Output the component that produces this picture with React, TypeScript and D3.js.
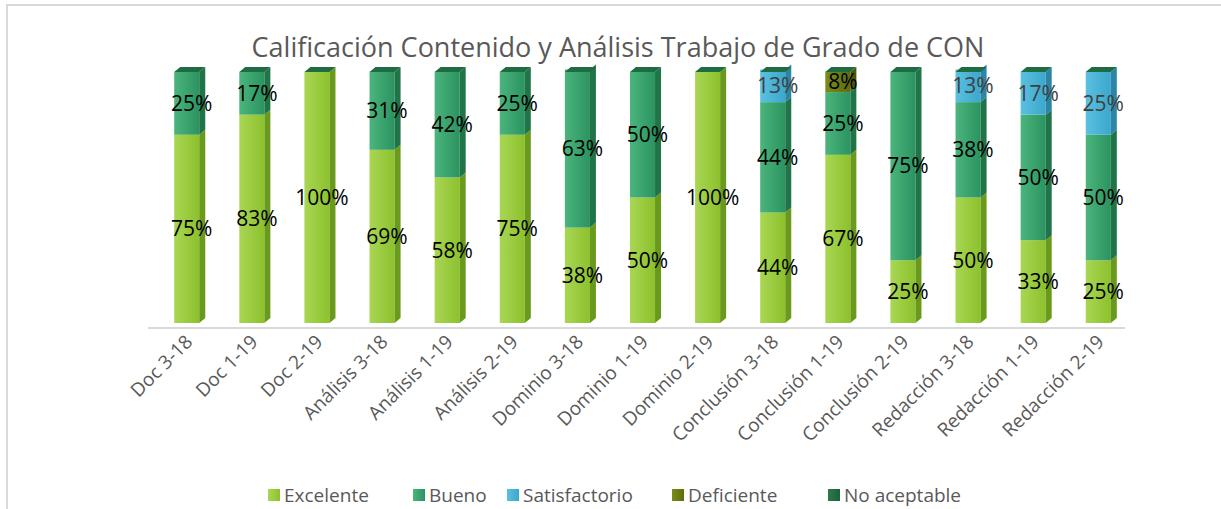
import React from "react";
import { scaleBand, scaleLinear, stack } from "d3";

const categories = [
  "Doc 3-18", "Doc 1-19", "Doc 2-19", "Análisis 3-18", "Análisis 1-19", "Análisis 2-19",
  "Dominio 3-18", "Dominio 1-19", "Dominio 2-19", "Conclusión 3-18", "Conclusión 1-19",
  "Conclusión 2-19", "Redacción 3-18", "Redacción 1-19", "Redacción 2-19",
];
const seriesNames = ["Excelente", "Bueno", "Satisfactorio", "Deficiente", "No aceptable"];
const excelente = [75, 83, 100, 69, 58, 75, 38, 50, 100, 44, 67, 25, 50, 33, 25];
const bueno = [25, 17, 0, 31, 42, 25, 63, 50, 0, 44, 25, 75, 38, 50, 50];
const satisfactorio = [0, 0, 0, 0, 0, 0, 0, 0, 0, 13, 0, 0, 13, 17, 25];
const deficiente = [0, 0, 0, 0, 0, 0, 0, 0, 0, 0, 8, 0, 0, 0, 0];
const noAceptable = [0, 0, 0, 0, 0, 0, 0, 0, 0, 0, 0, 0, 0, 0, 0];

// front light / front dark / side colour per series
const palette = [
  { a: "#a9d654", b: "#8cc12c", side: "#6a9a1c", label: "#000" },
  { a: "#4cb47c", b: "#2a9360", side: "#1f7448", label: "#000" },
  { a: "#5cc0e0", b: "#3aa7cc", side: "#2a85a6", label: "#404040" },
  { a: "#7a8c1a", b: "#5f6e0c", side: "#4a5708", label: "#000" },
  { a: "#2a7a4c", b: "#1d6139", side: "#134a2a", label: "#000" },
];

const rows = categories.map((c, i) => ({
  cat: c,
  "Excelente": excelente[i],
  "Bueno": bueno[i],
  "Satisfactorio": satisfactorio[i],
  "Deficiente": deficiente[i],
  "No aceptable": noAceptable[i],
}));

const font = "'Open Sans', sans-serif";

export default function App() {
  const width = 1221, height = 509;
  const dx = 6, dy = -5;
  const x = scaleBand<string>().domain(categories).range([154, 1131]).paddingInner(0.615).paddingOuter(0.31);
  const y = scaleLinear().domain([0, 100]).range([323, 72]);
  const layers = stack<any>().keys(seriesNames)(rows);
  const bw = x.bandwidth();

  return (
    <svg width={width} height={height} style={{ position: "absolute", left: 0, top: 0 }}>
      <defs>
        {palette.map((p, i) => (
          <linearGradient key={i} id={`g${i}`} x1="0" x2="1" y1="0" y2="0">
            <stop offset="0" stopColor={p.a} />
            <stop offset="1" stopColor={p.b} />
          </linearGradient>
        ))}
      </defs>
      <rect x={7} y={5} width={1230} height={520} fill="#fff" stroke="#d9d9d9" strokeWidth={2} />
      <text x={618} y={57} textAnchor="middle" fontFamily={font} fontSize={27} fill="#595959">
        Calificación Contenido y Análisis Trabajo de Grado de CON
      </text>
      <line x1={148} x2={1125} y1={328} y2={328} stroke="#d9d9d9" strokeWidth={2} />
      {layers.map((layer, si) =>
        layer.map((d, i) => {
          const v = d[1] - d[0];
          if (v <= 0) return null;
          const x0 = x(categories[i])!;
          const yTop = y(d[1]);
          const yBot = y(d[0]);
          return (
            <g key={`${si}-${i}`}>
              <rect x={x0} y={yTop} width={bw} height={yBot - yTop} fill={`url(#g${si})`} />
              <path
                d={`M${x0 + bw},${yTop} L${x0 + bw + dx},${yTop + dy} L${x0 + bw + dx},${yBot + dy} L${x0 + bw},${yBot} Z`}
                fill={palette[si].side}
              />
            </g>
          );
        })
      )}
      {categories.map((c) => {
        const x0 = x(c)!;
        const yt = y(100);
        return (
          <path
            key={c}
            d={`M${x0},${yt} L${x0 + dx},${yt + dy} L${x0 + bw + dx},${yt + dy} L${x0 + bw},${yt} Z`}
            fill="#1f6b42"
          />
        );
      })}
      {layers.map((layer, si) =>
        layer.map((d, i) => {
          const v = d[1] - d[0];
          if (v <= 0) return null;
          const cx = x(categories[i])! + bw / 2 + 5;
          const cy = (y(d[0]) + y(d[1])) / 2;
          return (
            <text
              key={`l${si}-${i}`}
              x={cx}
              y={cy}
              dy="0.35em"
              textAnchor="middle"
              fontFamily={font}
              fontSize={21}
              fill={palette[si].label}
            >
              {`${v}%`}
            </text>
          );
        })
      )}
      {categories.map((c) => (
        <text
          key={`x${c}`}
          transform={`translate(${x(c)! + bw / 2 + 7},${343}) rotate(-45)`}
          textAnchor="end"
          fontFamily={font}
          fontSize={19}
          fill="#595959"
        >
          {c}
        </text>
      ))}
      {(() => {
        const lx = [268, 413, 507, 672, 828];
        return seriesNames.map((s, i) => (
          <g key={s} transform={`translate(${lx[i]},${495})`}>
            <rect x={0} y={-6} width={12} height={12} fill={`url(#g${i})`} />
            <text x={16} y={0} dy="0.35em" fontFamily={font} fontSize={19} fill="#595959">
              {s}
            </text>
          </g>
        ));
      })()}
    </svg>
  );
}
